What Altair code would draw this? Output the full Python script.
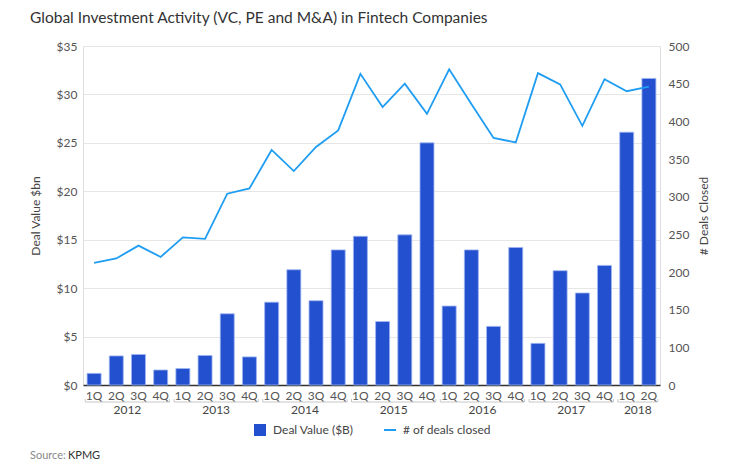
import altair as alt
import pandas as pd

years = ["2012"] * 4 + ["2013"] * 4 + ["2014"] * 4 + ["2015"] * 4 + ["2016"] * 4 + ["2017"] * 4 + ["2018"] * 2
quarters = ["1Q", "2Q", "3Q", "4Q"] * 6 + ["1Q", "2Q"]
deal_value = [1.2, 3.0, 3.15, 1.55, 1.7, 3.05, 7.35, 2.9, 8.55, 11.9, 8.7, 13.95,
              15.35, 6.55, 15.5, 25.0, 8.15, 13.95, 6.05, 14.2, 4.3, 11.8, 9.5, 12.35,
              26.1, 31.65]
deals_closed = [212, 218, 235, 220, 246, 244, 304, 311, 362, 334, 366, 388,
                463, 419, 450, 410, 469, 423, 378, 372, 464, 449, 394, 456,
                440, 446]

year_names = ["2012", "2013", "2014", "2015", "2016", "2017", "2018"]
left_ticks = [0, 5, 10, 15, 20, 25, 30, 35]
right_ticks = [50, 100, 150, 200, 250, 300, 350, 400, 450, 500]

keys = [f"{y}-{q}" for y, q in zip(years, quarters)]
df = pd.DataFrame({"key": keys, "value": deal_value, "deals": deals_closed})

# year groups
grp_rows = []
for yname in year_names:
    ks = [k for k in keys if k.startswith(yname)]
    mid = ks[len(ks) // 2 - 1]
    grp_rows.append({"year": yname, "key": mid, "start": ks[0], "end": ks[-1]})
grp = pd.DataFrame(grp_rows)

FONT = "Lato"
BAR = "#2250CF"
LINE = "#1E9DF2"
H = 339

xscale = alt.Scale(domain=keys, paddingInner=0, paddingOuter=0)
xaxis = alt.Axis(labelExpr="split(datum.value, '-')[1]", labelAngle=0, ticks=False,
                 domain=True, domainColor="#333333", domainWidth=1.5, grid=False,
                 labelPadding=5, labelFontSize=12, labelColor="#555555", labelFont=FONT,
                 title=None)

base = alt.Chart(df)

bars = base.mark_bar(width=alt.RelativeBandSize(0.63), color=BAR, stroke="#9fb5f2",
                     strokeWidth=0.8).encode(
    x=alt.X("key:N", scale=xscale, axis=xaxis),
    y=alt.Y("value:Q", scale=alt.Scale(domain=[0, 35], nice=False),
            axis=alt.Axis(values=left_ticks, labelExpr="'$' + datum.value",
                          grid=True, gridColor="#e6e6e6", domain=False, ticks=False,
                          labelPadding=6, labelFontSize=12, labelColor="#555555",
                          labelFont=FONT, title="Deal Value $bn", titleFont=FONT,
                          titleFontSize=12, titleFontWeight="normal",
                          titleColor="#444444", titlePadding=14)),
)

line = base.mark_line(color=LINE, strokeWidth=1.8).encode(
    x=alt.X("key:N", scale=xscale, axis=xaxis),
    y=alt.Y("deals:Q", scale=alt.Scale(domain=[50, 500], nice=False, zero=False),
            axis=alt.Axis(orient="right", values=right_ticks,
                          labelExpr="datum.value == 50 ? '0' : datum.label",
                          grid=False, domain=False, ticks=False, labelPadding=8,
                          labelFontSize=12, labelColor="#555555", labelFont=FONT,
                          title="# Deals Closed", titleFont=FONT, titleFontSize=12,
                          titleFontWeight="normal", titleColor="#444444",
                          titleAngle=270, titlePadding=22)),
)

gbase = alt.Chart(grp)
year_text = gbase.mark_text(font=FONT, fontSize=12, color="#444444", baseline="middle").encode(
    x=alt.X("key:N", scale=xscale, axis=xaxis, bandPosition=1),
    y=alt.value(H + 25),
    text="year:N",
)
brackets = gbase.mark_rule(color="#c8c8c8", strokeWidth=1).encode(
    x=alt.X("start:N", scale=xscale, axis=xaxis, bandPosition=0.1),
    x2=alt.X2("end:N", bandPosition=0.9),
    y=alt.value(H + 17),
)
bl = gbase.mark_rule(color="#c8c8c8", strokeWidth=1).encode(
    x=alt.X("start:N", scale=xscale, axis=xaxis, bandPosition=0.1),
    y=alt.value(H + 14), y2=alt.value(H + 17),
)
br = gbase.mark_rule(color="#c8c8c8", strokeWidth=1).encode(
    x=alt.X("end:N", scale=xscale, axis=xaxis, bandPosition=0.9),
    y=alt.value(H + 14), y2=alt.value(H + 17),
)

one = alt.Chart(pd.DataFrame({"a": [0]}))
title = one.mark_text(text="Global Investment Activity (VC, PE and M&A) in Fintech Companies",
                      font=FONT, fontSize=15.5, color="#333333", align="left",
                      baseline="middle").encode(x=alt.value(-53), y=alt.value(-28))
leg_sq = one.mark_rect(color=BAR).encode(x=alt.value(171), x2=alt.value(183),
                                          y=alt.value(378), y2=alt.value(390))
leg_t1 = one.mark_text(text="Deal Value ($B)", font=FONT, fontSize=12, color="#444444",
                       align="left", baseline="middle").encode(x=alt.value(190), y=alt.value(384))
leg_ln = one.mark_rule(color=LINE, strokeWidth=2).encode(x=alt.value(301), x2=alt.value(313),
                                                         y=alt.value(384))
leg_t2 = one.mark_text(text="# of deals closed", font=FONT, fontSize=12, color="#444444",
                       align="left", baseline="middle").encode(x=alt.value(320), y=alt.value(384))
src1 = one.mark_text(text="Source:", font=FONT, fontSize=11, color="#888888",
                     align="left", baseline="middle").encode(x=alt.value(-53), y=alt.value(410))
src2 = one.mark_text(text="KPMG", font=FONT, fontSize=11, color="#333333",
                     align="left", baseline="middle").encode(x=alt.value(-15), y=alt.value(410))

chart = alt.layer(
    bars, line, brackets, bl, br, year_text, title, leg_sq, leg_t1, leg_ln, leg_t2, src1, src2
).resolve_scale(y="independent").properties(
    width=577, height=H,
    padding={"left": 75, "top": 38, "right": 73, "bottom": 82},
    autosize=alt.AutoSizeParams(type="none"),
).configure_view(stroke=None).configure(background="white")

chart.save("out.html", embed_options={"renderer": "svg", "actions": False})
